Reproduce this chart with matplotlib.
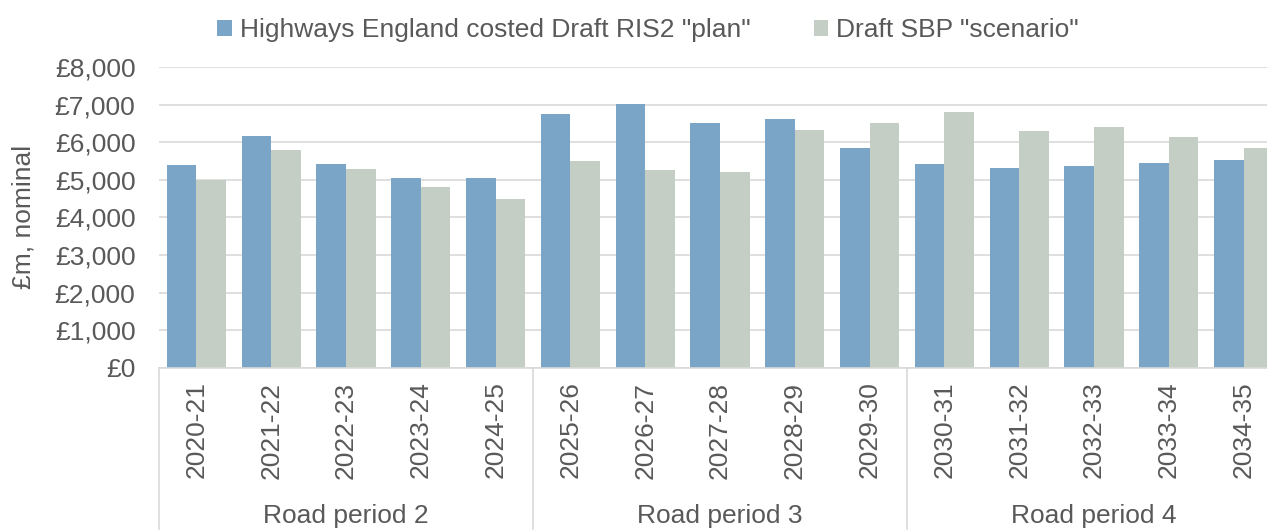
import numpy as np
import matplotlib
matplotlib.use("Agg")
import matplotlib.pyplot as plt
from matplotlib.transforms import blended_transform_factory

plt.rcParams['font.family'] = ['Liberation Sans', 'DejaVu Sans']

years = ["2020-21", "2021-22", "2022-23", "2023-24", "2024-25",
         "2025-26", "2026-27", "2027-28", "2028-29", "2029-30",
         "2030-31", "2031-32", "2032-33", "2033-34", "2034-35"]
ris2_plan = [5400, 6170, 5430, 5040, 5040,
             6760, 7020, 6500, 6610, 5845,
             5430, 5300, 5370, 5455, 5515]
sbp_scenario = [5000, 5780, 5285, 4805, 4480,
                5490, 5250, 5215, 6315, 6500,
                6795, 6290, 6400, 6135, 5845]
periods = ["Road period 2", "Road period 3", "Road period 4"]
period_sizes = [5, 5, 5]

BLUE = "#7ba5c6"
GREY = "#c4cec5"
TEXT = "#595959"
GRID = "#d9d9d9"

W, H = 1267, 530
fig = plt.figure(figsize=(W / 100, H / 100), dpi=100)
left, right, top, bottom = 159, 1281, 67, 367.7
ax = fig.add_axes([left / W, 1 - bottom / H, (right - left) / W, (bottom - top) / H])

x = np.arange(len(years))
bw = 0.395
ax.bar(x - bw / 2, ris2_plan, bw, color=BLUE, label='Highways England costed Draft RIS2 "plan"')
ax.bar(x + bw / 2, sbp_scenario, bw, color=GREY, label='Draft SBP "scenario"')

ax.set_xlim(-0.5, len(years) - 0.5)
ax.set_ylim(0, 8000)
ax.set_yticks(np.arange(0, 8001, 1000))
ax.set_yticklabels([f"£{v:,}" for v in range(0, 8001, 1000)])
ax.yaxis.grid(True, color=GRID, linewidth=1.2)
ax.set_axisbelow(True)
for s in ["top", "right", "left"]:
    ax.spines[s].set_visible(False)
ax.spines["bottom"].set_color(GRID)
ax.spines["bottom"].set_linewidth(1.2)

ax.set_xticks(x)
ax.set_xticklabels(years, rotation=90, fontsize=19, color=TEXT)
ax.tick_params(axis="x", length=0, pad=10)
ax.tick_params(axis="y", length=0, labelsize=19, labelcolor=TEXT, pad=17)
ax.set_ylabel("£m, nominal", fontsize=19, color=TEXT, labelpad=14)

# group dividers and labels under the category axis
trans = blended_transform_factory(ax.transData, ax.transAxes)
edges = np.concatenate([[0], np.cumsum(period_sizes)]) - 0.5
depth = (H - bottom) / (bottom - top)
for e in edges:
    ax.plot([e, e], [0, -depth], transform=trans, color=GRID, lw=1.2, clip_on=False)
for i, name in enumerate(periods):
    mid = (edges[i] + edges[i + 1]) / 2
    ax.text(mid, -(516 - bottom) / (bottom - top), name, transform=trans,
            ha="center", va="center", fontsize=19, color=TEXT)

leg = fig.legend(loc="center", bbox_to_anchor=(648 / W, 1 - 30 / H), ncol=2, frameon=False,
                 fontsize=19, handlelength=0.55, handleheight=0.55, handletextpad=0.3,
                 columnspacing=2.4, labelcolor=TEXT)

fig.savefig("out.png", dpi=100)
